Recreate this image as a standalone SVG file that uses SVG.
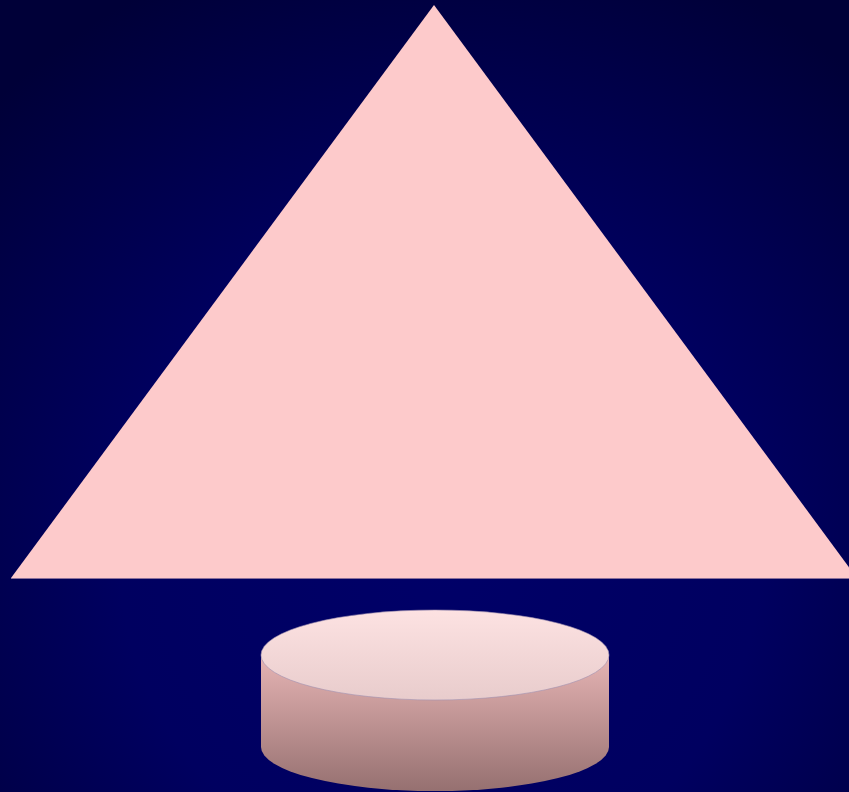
<svg xmlns="http://www.w3.org/2000/svg" width="849" height="792" viewBox="0 0 849 792">
<defs>
<radialGradient id="bg" cx="440" cy="560" r="640" gradientUnits="userSpaceOnUse">
<stop offset="0" stop-color="#000068"/>
<stop offset="0.5" stop-color="#000060"/>
<stop offset="1" stop-color="#000038"/>
</radialGradient>
<linearGradient id="body" x1="0" y1="655" x2="0" y2="792" gradientUnits="userSpaceOnUse">
<stop offset="0" stop-color="#e6b4b4"/>
<stop offset="1" stop-color="#957070"/>
</linearGradient>
<linearGradient id="top" x1="0" y1="610" x2="0" y2="700" gradientUnits="userSpaceOnUse">
<stop offset="0" stop-color="#fde2e2"/>
<stop offset="1" stop-color="#e8cccc"/>
</linearGradient>
</defs>
<rect width="849" height="792" fill="url(#bg)"/>
<g id="triangle">
<polygon points="434,5 11,578 857,578" fill="#fdcacb"/>
<line x1="11" y1="578.5" x2="849" y2="578.5" stroke="#8a6f9a" stroke-width="1"/>
</g>
<g id="cylinder">
<path d="M261,655 L261,747 A174,44 0 0 0 609,747 L609,655 Z" fill="url(#body)"/>
<ellipse cx="435" cy="655" rx="174" ry="45" fill="url(#top)" stroke="#a090b0" stroke-width="0.6"/>
</g>
</svg>
